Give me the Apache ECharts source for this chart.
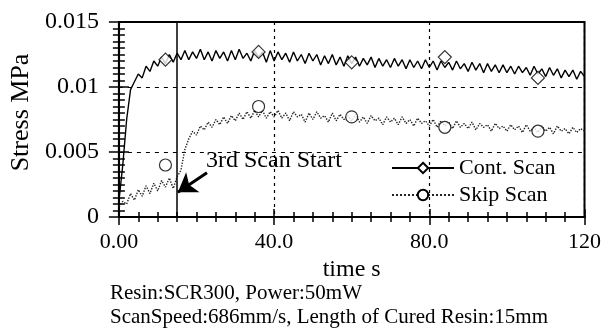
<!DOCTYPE html>
<html>
<head>
<meta charset="utf-8">
<script src="https://cdn.jsdelivr.net/npm/echarts@6/dist/echarts.min.js"></script>
<style>
  html, body { margin: 0; padding: 0; background: #fff; }
  #chart { width: 604px; height: 333px; }
</style>
</head>
<body>
<div id="chart"></div>
<script>
// sampled once per second, 0..120 s
var timeStep = 1;

var contStress = [
  0.0012, 0.0040, 0.0075, 0.0098, 0.0104, 0.0110, 0.0107, 0.0116, 0.0112, 0.0120,
  0.0116, 0.0123, 0.0118, 0.0125, 0.0119, 0.0126, 0.0121, 0.0128, 0.0121, 0.0127,
  0.0122, 0.0129, 0.0121, 0.0127, 0.0120, 0.0128, 0.0122, 0.0127, 0.0120, 0.0128,
  0.0121, 0.0129, 0.0122, 0.0126, 0.0120, 0.0128, 0.0123, 0.0127, 0.0119, 0.0128,
  0.0120, 0.0127, 0.0121, 0.0126, 0.0119, 0.0127, 0.0120, 0.0125, 0.0118, 0.0126,
  0.0120, 0.0125, 0.0117, 0.0124, 0.0118, 0.0125, 0.0117, 0.0123, 0.0116, 0.0124,
  0.0118, 0.0123, 0.0116, 0.0122, 0.0117, 0.0123, 0.0115, 0.0122, 0.0116, 0.0121,
  0.0115, 0.0122, 0.0116, 0.0121, 0.0114, 0.0121, 0.0115, 0.0120, 0.0114, 0.0121,
  0.0115, 0.0120, 0.0113, 0.0120, 0.0115, 0.0119, 0.0113, 0.0120, 0.0114, 0.0118,
  0.0112, 0.0119, 0.0113, 0.0118, 0.0111, 0.0118, 0.0112, 0.0117, 0.0111, 0.0117,
  0.0111, 0.0116, 0.0110, 0.0116, 0.0111, 0.0115, 0.0109, 0.0116, 0.0110, 0.0114,
  0.0108, 0.0115, 0.0109, 0.0114, 0.0107, 0.0113, 0.0108, 0.0113, 0.0106, 0.0112,
  0.0108
];

var skipStress = [
  0.0008, 0.0012, 0.0010, 0.0018, 0.0013, 0.0021, 0.0016, 0.0024, 0.0018, 0.0026,
  0.0020, 0.0028, 0.0023, 0.0030, 0.0022, 0.0031, 0.0036, 0.0052, 0.0060, 0.0066,
  0.0063, 0.0070, 0.0067, 0.0073, 0.0069, 0.0075, 0.0071, 0.0077, 0.0072, 0.0078,
  0.0074, 0.0080, 0.0075, 0.0081, 0.0076, 0.0082, 0.0077, 0.0082, 0.0076, 0.0081,
  0.0077, 0.0082, 0.0076, 0.0080, 0.0074, 0.0081, 0.0077, 0.0079, 0.0073, 0.0080,
  0.0075, 0.0081, 0.0076, 0.0078, 0.0073, 0.0080, 0.0074, 0.0079, 0.0075, 0.0078,
  0.0074, 0.0079, 0.0073, 0.0077, 0.0072, 0.0078, 0.0074, 0.0076, 0.0071, 0.0077,
  0.0073, 0.0076, 0.0071, 0.0077, 0.0072, 0.0075, 0.0070, 0.0076, 0.0072, 0.0074,
  0.0070, 0.0075, 0.0069, 0.0074, 0.0070, 0.0073, 0.0068, 0.0074, 0.0069, 0.0072,
  0.0068, 0.0073, 0.0067, 0.0072, 0.0069, 0.0071, 0.0066, 0.0072, 0.0068, 0.0070,
  0.0066, 0.0071, 0.0067, 0.0070, 0.0065, 0.0071, 0.0066, 0.0069, 0.0065, 0.0070,
  0.0066, 0.0069, 0.0064, 0.0070, 0.0066, 0.0068, 0.0064, 0.0069, 0.0065, 0.0068,
  0.0066
];

// marker points drawn on top of the traces
var contMarkTime = [12, 36, 60, 84, 108];
var contMarkStress = [0.0121, 0.0127, 0.0119, 0.0123, 0.0107];
var skipMarkTime = [12, 36, 60, 84, 108];
var skipMarkStress = [0.0040, 0.0085, 0.0077, 0.0069, 0.0066];

var xTickLabels = ['0.00', '40.0', '80.0', '120'];
var yTickLabels = ['0', '0.005', '0.01', '0.015'];

var scanStartTime = 15;
var arrowTail = [22.7, 0.0034];
var arrowHead = [15.2, 0.0019];

var serif = "'Liberation Serif', 'Times New Roman', serif";

function pairs(ys) {
  return ys.map(function (v, i) { return [i * timeStep, v]; });
}
function zip(xs, ys) {
  return xs.map(function (x, i) { return [x, ys[i]]; });
}

var chartDom = document.getElementById('chart');
var myChart = echarts.init(chartDom, null, {renderer: 'canvas'});

var option = {
  animation: false,
  backgroundColor: '#fff',
  grid: {
    left: 113, right: 19, top: 22, bottom: 116,
    show: true, borderColor: '#000', borderWidth: 2
  },
  legend: {
    left: 386, top: 152,
    orient: 'vertical',
    itemWidth: 62, itemHeight: 13, itemGap: 5,
    data: ['Cont. Scan', 'Skip Scan'],
    textStyle: {fontFamily: serif, fontSize: 22, color: '#000'}
  },
  xAxis: [
    {
      type: 'value', min: 0, max: 120, interval: 40,
      name: 'time s', nameLocation: 'middle', nameGap: 33,
      nameTextStyle: {fontFamily: serif, fontSize: 24, color: '#000'},
      axisLine: {lineStyle: {color: '#000', width: 2}},
      axisTick: {inside: true, length: 8, lineStyle: {color: '#000', width: 1.5}},
      minorTick: {show: true, splitNumber: 8, length: 5, lineStyle: {color: '#000', width: 1.5}},
      axisLabel: {
        margin: 14, fontFamily: serif, fontSize: 22, color: '#000',
        formatter: function (v, i) { return xTickLabels[i]; }
      },
      splitLine: {show: true, lineStyle: {color: '#000', type: [3, 4], width: 1.2}}
    },
    {
      type: 'value', min: 0, max: 120, interval: 40, position: 'top',
      axisLine: {lineStyle: {color: '#000', width: 2}},
      axisTick: {inside: true, length: 8, lineStyle: {color: '#000', width: 1.5}},
      minorTick: {show: true, splitNumber: 8, length: 5, lineStyle: {color: '#000', width: 1.5}},
      axisLabel: {show: false},
      splitLine: {show: false}
    }
  ],
  yAxis: [
    {
      type: 'value', min: 0, max: 0.015, interval: 0.005,
      name: 'Stress MPa', nameLocation: 'middle', nameGap: 80, nameRotate: 90,
      nameTextStyle: {fontFamily: serif, fontSize: 26, color: '#000', padding: [0, 0, 0, 14]},
      axisLine: {lineStyle: {color: '#000', width: 2}},
      axisTick: {inside: true, length: 10, lineStyle: {color: '#000', width: 1.5}},
      minorTick: {show: true, splitNumber: 10, length: 6, lineStyle: {color: '#000', width: 1.5}},
      axisLabel: {
        margin: 20, fontFamily: serif, fontSize: 24, color: '#000',
        formatter: function (v, i) { return yTickLabels[i]; }
      },
      splitLine: {show: true, lineStyle: {color: '#000', type: [4, 5], width: 1.2}}
    },
    {
      type: 'value', min: 0, max: 0.015, interval: 0.005, position: 'right',
      axisLine: {lineStyle: {color: '#000', width: 2}},
      axisTick: {inside: true, length: 10, lineStyle: {color: '#000', width: 1.5}},
      minorTick: {show: true, splitNumber: 10, length: 6, lineStyle: {color: '#000', width: 1.5}},
      axisLabel: {show: false},
      splitLine: {show: false}
    }
  ],
  series: [
    {
      name: 'Skip Scan',
      type: 'line',
      data: pairs(skipStress),
      symbol: 'emptyCircle', showSymbol: false,
      lineStyle: {color: '#222', width: 1.4, type: 'dotted'},
      itemStyle: {color: '#000'},
      z: 3
    },
    {
      name: 'Cont. Scan',
      type: 'line',
      data: pairs(contStress),
      symbol: 'emptyDiamond', showSymbol: false,
      lineStyle: {color: '#000', width: 1.4},
      itemStyle: {color: '#000'},
      z: 3,
      markLine: {
        silent: true, symbol: 'none', label: {show: false},
        lineStyle: {color: '#000', type: 'solid', width: 1.5},
        data: [{xAxis: scanStartTime}]
      }
    },
    {
      name: 'Skip Scan',
      type: 'scatter',
      data: zip(skipMarkTime, skipMarkStress),
      symbol: 'circle', symbolSize: 12,
      itemStyle: {color: '#fff', borderColor: '#000', borderWidth: 1.2},
      z: 5
    },
    {
      name: 'Cont. Scan',
      type: 'scatter',
      data: zip(contMarkTime, contMarkStress),
      symbol: 'diamond', symbolSize: 13,
      itemStyle: {color: '#fff', borderColor: '#000', borderWidth: 1.2},
      z: 5,
      markLine: {
        silent: true, symbol: ['none', 'arrow'], symbolSize: 18,
        label: {show: false},
        itemStyle: {color: '#000'},
        lineStyle: {color: '#000', type: 'solid', width: 3},
        data: [[{coord: arrowTail}, {coord: arrowHead}]]
      }
    }
  ],
  graphic: [
    {
      type: 'text', left: 206, top: 149,
      style: {text: '3rd Scan Start', font: '24px ' + serif, fill: '#000'}
    },
    {
      type: 'text', left: 110, top: 283,
      style: {text: 'Resin:SCR300, Power:50mW', font: '21px ' + serif, fill: '#000'}
    },
    {
      type: 'text', left: 110, top: 307,
      style: {text: 'ScanSpeed:686mm/s, Length of Cured Resin:15mm', font: '21px ' + serif, fill: '#000'}
    }
  ]
};

option && myChart.setOption(option);
</script>
</body>
</html>
